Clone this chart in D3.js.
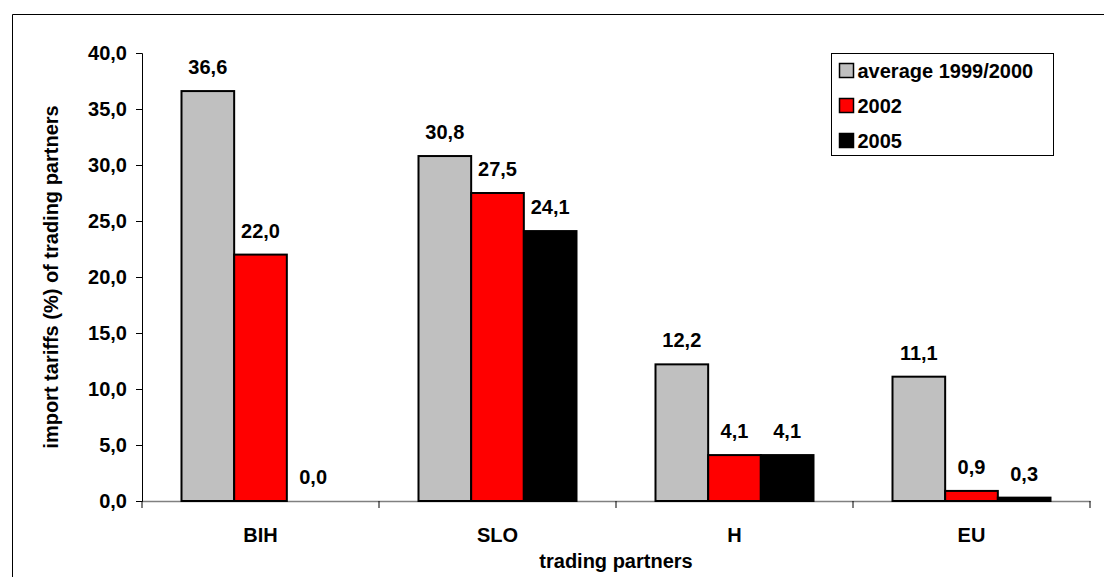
<!DOCTYPE html>
<html>
<head>
<meta charset="utf-8">
<script src="https://cdn.jsdelivr.net/npm/d3@7"></script>
<style>
  body { margin: 0; background: #fff; }
  text { font-family: "Liberation Sans", Arial, sans-serif; font-weight: bold; }
</style>
</head>
<body>
<script>
var partners = ["BIH", "SLO", "H", "EU"];
var seriesNames = ["average 1999/2000", "2002", "2005"];
var avg9900 = [36.6, 30.8, 12.2, 11.1];
var y2002 = [22.0, 27.5, 4.1, 0.9];
var y2005 = [0.0, 24.1, 4.1, 0.3];
var yTicks = [0, 5, 10, 15, 20, 25, 30, 35, 40];
var colors = ["#c0c0c0", "#ff0000", "#000000"];

var width = 1104, height = 577;
var margin = {top: 53, right: 14, bottom: 76, left: 142};
var innerWidth = width - margin.left - margin.right;
var innerHeight = height - margin.top - margin.bottom;
var fs = "20px";

var rows = partners.map((p, i) => ({partner: p, values: [avg9900[i], y2002[i], y2005[i]]}));
var fmt = d => d3.format(".1f")(d).replace(".", ",");

var svg = d3.select("body").append("svg")
    .attr("width", width)
    .attr("height", height);

// outer frame: only its top and left edges fall inside the picture
svg.append("path")
    .attr("d", "M12.5," + height + "V14.5H" + width)
    .attr("fill", "none").attr("stroke", "#000");

var g = svg.append("g")
    .attr("transform", "translate(" + margin.left + "," + margin.top + ")");

var x = d3.scaleBand()
    .domain(partners)
    .range([0, innerWidth]);

var xInner = d3.scaleBand()
    .domain(d3.range(3))
    .range([0, x.bandwidth()])
    .paddingOuter(0.75)
    .paddingInner(0);

var y = d3.scaleLinear()
    .domain([0, 40])
    .range([innerHeight, 0]);

// x axis
var xAxis = g.append("g")
    .attr("transform", "translate(0," + innerHeight + ")")
    .call(d3.axisBottom(x).tickSize(0).tickPadding(27));
xAxis.select(".domain").attr("stroke", "#808080").attr("stroke-width", 1.5);
xAxis.selectAll("text").style("font-size", fs).attr("fill", "#000");
xAxis.selectAll(".bound")
    .data(d3.range(partners.length + 1))
    .enter().append("line")
    .attr("class", "bound")
    .attr("x1", i => i * x.step()).attr("x2", i => i * x.step())
    .attr("y1", 0).attr("y2", 7)
    .attr("stroke", "#000");

// bars
var groups = g.selectAll(".grp")
    .data(rows)
    .enter().append("g")
    .attr("class", "grp")
    .attr("transform", d => "translate(" + x(d.partner) + ",0)");

groups.selectAll("rect")
    .data(d => d.values)
    .enter().append("rect")
    .attr("x", (d, i) => xInner(i))
    .attr("y", d => y(d))
    .attr("width", xInner.bandwidth())
    .attr("height", d => innerHeight - y(d))
    .attr("fill", (d, i) => colors[i])
    .attr("stroke", "#000")
    .attr("stroke-width", 2);

groups.selectAll(".lbl")
    .data(d => d.values)
    .enter().append("text")
    .attr("class", "lbl")
    .attr("x", (d, i) => xInner(i) + xInner.bandwidth() / 2)
    .attr("y", d => y(d) - 17)
    .attr("text-anchor", "middle")
    .style("font-size", fs)
    .text(fmt);

// y axis
var yAxis = g.append("g")
    .call(d3.axisLeft(y).tickValues(yTicks).tickSize(6).tickPadding(9).tickFormat(fmt));
yAxis.selectAll("text").style("font-size", fs).attr("fill", "#000");
yAxis.selectAll("line, path").attr("stroke", "#000");

// axis titles
g.append("text")
    .attr("x", innerWidth / 2)
    .attr("y", innerHeight + 67)
    .attr("text-anchor", "middle")
    .style("font-size", fs)
    .text("trading partners");

g.append("text")
    .attr("transform", "rotate(-90)")
    .attr("x", -innerHeight / 2)
    .attr("y", -84)
    .attr("text-anchor", "middle")
    .style("font-size", fs)
    .text("import tariffs (%) of trading partners");

// legend
var legend = svg.append("g").attr("transform", "translate(831.5,53.5)");
legend.append("rect")
    .attr("width", 222).attr("height", 102)
    .attr("fill", "#fff").attr("stroke", "#000");
var items = legend.selectAll(".item")
    .data(seriesNames)
    .enter().append("g")
    .attr("transform", (d, i) => "translate(8," + (10 + i * 35) + ")");
items.append("rect")
    .attr("width", 14).attr("height", 14)
    .attr("fill", (d, i) => colors[i])
    .attr("stroke", "#000").attr("stroke-width", 1.5);
items.append("text")
    .attr("x", 18).attr("y", 14)
    .style("font-size", fs)
    .text(d => d);
</script>
</body>
</html>
